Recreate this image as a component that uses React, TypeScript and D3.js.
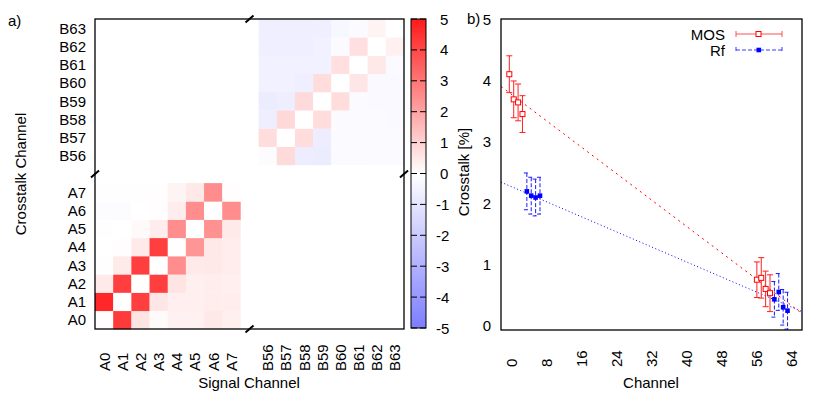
import React from "react";
import * as d3 from "d3";

// channel names
const aNames = ["A0", "A1", "A2", "A3", "A4", "A5", "A6", "A7"];
const bNames = ["B56", "B57", "B58", "B59", "B60", "B61", "B62", "B63"];

// crosstalk [%] rows = crosstalk channel, columns = signal channel
const aBlock = [
  [0.05, 4.3, 0.6, 0.1, 0.3, 0.3, 0.5, 0.35],   // A0
  [4.7, 0, 4.2, 0.55, 0.35, 0.35, 0.4, 0.4],    // A1
  [0.45, 4.2, 0, 4.2, 0.6, 0.35, 0.4, 0.35],    // A2
  [0.03, 0.45, 4.2, 0, 2.5, 0.45, 0.5, 0.4],    // A3
  [0, 0.05, 0.45, 4.2, 0, 2.3, 0.5, 0.4],       // A4
  [0.03, 0, 0.1, 0.4, 2.5, 0, 2.4, 0.45],       // A5
  [-0.1, -0.1, 0, 0.05, 0.4, 2.5, 0, 2.5],      // A6
  [-0.05, -0.05, -0.05, 0.05, 0.25, 0.5, 2.5, 0.05], // A7
];
const bBlock = [
  [-0.1, 0.8, -0.7, -0.75, -0.15, -0.15, -0.2, -0.2],  // B56
  [0.75, 0, 0.75, -0.7, -0.15, -0.2, -0.2, -0.2],      // B57
  [-0.65, 0.85, 0, 0.75, -0.15, -0.2, -0.2, -0.25],    // B58
  [-0.75, -0.65, 0.8, 0, 0.75, -0.15, -0.25, -0.25],   // B59
  [-0.55, -0.55, -0.6, 0.75, 0, 0.55, -0.25, -0.25],   // B60
  [-0.55, -0.55, -0.55, -0.55, 0.7, 0, 0.5, -0.2],     // B61
  [-0.6, -0.6, -0.6, -0.55, -0.15, 0.7, 0, 0.3],       // B62
  [-0.6, -0.6, -0.6, -0.6, -0.3, -0.15, 0.25, 0],      // B63
];
const cbTicks = [5, 4, 3, 2, 1, 0, -1, -2, -3, -4, -5];

// panel b
const mosCh = [-0.5, 0.5, 1.5, 2.5, 56, 57, 58, 59];
const mosVal = [4.1, 3.69, 3.64, 3.45, 0.75, 0.78, 0.6, 0.53];
const mosErr = [0.3, 0.3, 0.3, 0.3, 0.29, 0.33, 0.29, 0.3];
const rfCh = [3.5, 4.5, 5.5, 6.5, 60, 61, 62, 63];
const rfVal = [2.19, 2.12, 2.09, 2.12, 0.43, 0.55, 0.3, 0.245];
const rfErr = [0.3, 0.3, 0.3, 0.3, 0.29, 0.3, 0.29, 0.3];
const mosFit = [[-2.4, 3.9], [66.3, 0.2]];
const rfFit = [[-2.4, 2.34], [66.3, 0.23]];
const chTicks = [0, 8, 16, 24, 32, 40, 48, 56, 64];
const ctTicks = [0, 1, 2, 3, 4, 5];

const FONT = "'Liberation Sans', Arial, Helvetica, sans-serif";

export default function App() {
  // heatmap geometry: 8 A cells, a one-cell gap, 8 B cells
  const hx = d3.scaleLinear().domain([0, 17]).range([95, 404]);
  const hy = d3.scaleLinear().domain([0, 17]).range([329, 19]);
  const color = d3.scaleLinear<string>().domain([-5, 0, 5]).range(["#7d7dff", "#ffffff", "#ff1a1a"]);
  const cb = d3.scaleLinear().domain([-5, 5]).range([328, 19]);

  const cells: { i: number; j: number; v: number }[] = [];
  aBlock.forEach((row, r) => row.forEach((v, c) => cells.push({ i: c, j: r, v })));
  bBlock.forEach((row, r) => row.forEach((v, c) => cells.push({ i: c + 9, j: r + 9, v })));
  const rowNames = [...aNames.map((n, k) => ({ n, k })), ...bNames.map((n, k) => ({ n, k: k + 9 }))];

  const x = d3.scaleLinear().domain([-2.4, 66.3]).range([501, 802]);
  const y = d3.scaleLinear().domain([-0.07, 5]).range([330, 19]);
  const line = d3.line<number[]>().x(d => x(d[0])).y(d => y(d[1]));

  const breakMark = (cx: number, cy: number) => (
    <line x1={cx - 4} y1={cy + 3.5} x2={cx + 4} y2={cy - 3.5} stroke="#000" strokeWidth={2} />
  );
  const gapX = hx(8.5), gapY = hy(8.5);

  const errBars = (ch: number[], val: number[], err: number[], col: string, dash?: string) =>
    ch.map((c, k) => {
      const px = x(c), top = y(val[k] + err[k]), bot = Math.min(y(val[k] - err[k]), 330);
      return (
        <g key={k} stroke={col} strokeWidth={1} strokeDasharray={dash}>
          <line x1={px} x2={px} y1={top} y2={bot} />
          <line x1={px - 3} x2={px + 3} y1={top} y2={top} />
          {bot < 330 && <line x1={px - 3} x2={px + 3} y1={bot} y2={bot} />}
        </g>
      );
    });

  return (
    <svg width={830} height={406} style={{ position: "absolute", left: 0, top: 0, background: "#fff" }} fontFamily={FONT}>
      <defs>
        <linearGradient id="cbar" x1="0" y1="1" x2="0" y2="0">
          <stop offset="0" stopColor={color(-5)} />
          <stop offset="0.5" stopColor={color(0)} />
          <stop offset="1" stopColor={color(5)} />
        </linearGradient>
        <clipPath id="plotb"><rect x={501} y={19} width={301} height={311} /></clipPath>
      </defs>

      {/* panel a */}
      <text x={8} y={26} fontSize={15}>a)</text>
      {cells.map((d, k) => (
        <rect key={k} x={hx(d.i)} y={hy(d.j + 1)} width={hx(d.i + 1) - hx(d.i) + 0.3} height={hy(d.j) - hy(d.j + 1) + 0.3} fill={color(d.v)} />
      ))}
      <rect x={95} y={19} width={309} height={310} fill="none" stroke="#000" strokeWidth={1.3} />
      {breakMark(gapX, 19)}
      {breakMark(gapX, 329)}
      {breakMark(95, gapY)}
      {breakMark(404, gapY)}
      {rowNames.map(d => (
        <text key={d.n} x={86} y={hy(d.k + 0.5)} fontSize={15} textAnchor="end" dominantBaseline="central">{d.n}</text>
      ))}
      {rowNames.map(d => (
        <text key={"x" + d.n} transform={`translate(${hx(d.k + 0.5)},371) rotate(-90)`} fontSize={15} dominantBaseline="central">{d.n}</text>
      ))}
      <text x={249} y={388} fontSize={15} textAnchor="middle">Signal Channel</text>
      <text transform="translate(20,174) rotate(-90)" fontSize={15} textAnchor="middle" dominantBaseline="central">Crosstalk Channel</text>

      {/* colour bar */}
      <rect x={411} y={19} width={15} height={309} fill="url(#cbar)" stroke="#000" strokeWidth={1} />
      {cbTicks.map(t => (
        <g key={t} stroke="#000" strokeWidth={1}>
          <line x1={411} x2={417} y1={cb(t)} y2={cb(t)} />
          <line x1={420} x2={426} y1={cb(t)} y2={cb(t)} />
        </g>
      ))}
      {cbTicks.map(t => (
        <text key={"l" + t} x={t < 0 ? 436 : 440} y={cb(t)} fontSize={15} dominantBaseline="central">{t}</text>
      ))}

      {/* panel b */}
      <text x={467} y={24} fontSize={15}>b)</text>
      <text transform="translate(463,172) rotate(-90)" fontSize={15} textAnchor="middle" dominantBaseline="central">Crosstalk [%]</text>
      {ctTicks.map(t => (
        <text key={t} x={491} y={y(t)} fontSize={15} textAnchor="end" dominantBaseline="central">{t}</text>
      ))}
      {chTicks.map(t => (
        <text key={t} transform={`translate(${x(t)},367) rotate(-90)`} fontSize={15} dominantBaseline="central">{t}</text>
      ))}
      <text x={651} y={388} fontSize={15} textAnchor="middle">Channel</text>

      <g clipPath="url(#plotb)">
        <path d={line(mosFit) ?? ""} fill="none" stroke="#ff0000" strokeWidth={1} strokeDasharray="2,4" />
        <path d={line(rfFit) ?? ""} fill="none" stroke="#0000ff" strokeWidth={1} strokeDasharray="1,2.5" />
        {errBars(mosCh, mosVal, mosErr, "#ff2020")}
        {errBars(rfCh, rfVal, rfErr, "#1a1aff", "4,2")}
        {mosCh.map((c, k) => (
          <rect key={k} x={x(c) - 2.5} y={y(mosVal[k]) - 2.5} width={5} height={5} fill="#fff" stroke="#ff0000" strokeWidth={1} />
        ))}
        {rfCh.map((c, k) => (
          <rect key={k} x={x(c) - 2.3} y={y(rfVal[k]) - 2.3} width={4.6} height={4.6} fill="#0000ff" />
        ))}
      </g>
      <rect x={501} y={19} width={301} height={311} fill="none" stroke="#000" strokeWidth={1.3} />

      {/* legend */}
      <text x={725} y={34} fontSize={15} textAnchor="end" dominantBaseline="central">MOS</text>
      <text x={725} y={50} fontSize={15} textAnchor="end" dominantBaseline="central">Rf</text>
      <g stroke="#ff5050" strokeWidth={1}>
        <line x1={736} x2={782} y1={34} y2={34} />
        <line x1={736} x2={736} y1={31} y2={37} />
        <line x1={782} x2={782} y1={31} y2={37} />
      </g>
      <rect x={756} y={31.5} width={5} height={5} fill="#fff" stroke="#ff0000" />
      <g stroke="#3a3aff" strokeWidth={1} strokeDasharray="4,2">
        <line x1={736} x2={782} y1={50} y2={50} />
        <line x1={736} x2={736} y1={47} y2={53} />
        <line x1={782} x2={782} y1={47} y2={53} />
      </g>
      <rect x={756.5} y={47.7} width={4.6} height={4.6} fill="#0000ff" />
    </svg>
  );
}
